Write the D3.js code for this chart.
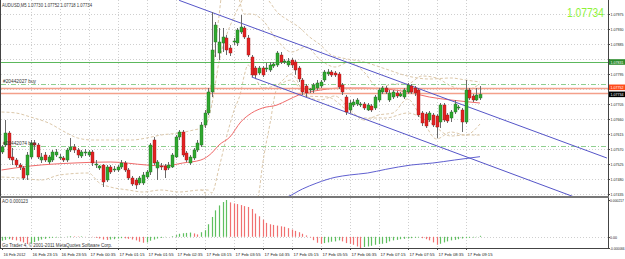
<!DOCTYPE html>
<html>
<head>
<meta charset="utf-8">
<script src="https://cdn.jsdelivr.net/npm/d3@7"></script>
<style>
body { margin: 0; background: #fff; }
text { font-family: "Liberation Sans", Arial, sans-serif; }
</style>
</head>
<body>
<svg id="chart" width="625" height="259"></svg>
<script>
// AUDUSD M5, 16 Feb 22:35 .. 17 Feb 09:35, one entry per bar
const opens = [1.07561,1.07582,1.07618,1.07546,1.07537,1.07522,1.07513,1.07492,1.07546,1.07588,
  1.07582,1.07537,1.07552,1.07531,1.07537,1.07552,1.07543,1.07543,1.07537,1.07567,
  1.07576,1.07567,1.07549,1.07558,1.07552,1.07561,1.07522,1.07513,1.07522,1.07477,
  1.07516,1.07507,1.07507,1.07516,1.07528,1.07507,1.07483,1.07477,1.07468,1.07468,
  1.07486,1.07501,1.07597,1.07513,1.07519,1.07519,1.07513,1.07516,1.07546,1.07606,
  1.07621,1.07558,1.07528,1.07543,1.07567,1.07582,1.07642,1.07678,1.07741,1.07891,
  1.07858,1.07888,1.07903,1.07873,1.07891,1.07888,1.07921,1.07933,1.07903,1.07846,
  1.07813,1.07798,1.07813,1.07810,1.07807,1.07819,1.07822,1.07852,1.07831,1.07822,
  1.07837,1.07831,1.07813,1.07777,1.07759,1.07747,1.07747,1.07753,1.07759,1.07777,
  1.07795,1.07801,1.07798,1.07795,1.07762,1.07726,1.07687,1.07702,1.07705,1.07702,
  1.07705,1.07687,1.07699,1.07693,1.07717,1.07741,1.07753,1.07717,1.07726,1.07738,
  1.07729,1.07726,1.07741,1.07759,1.07753,1.07747,1.07678,1.07675,1.07657,1.07672,
  1.07669,1.07651,1.07702,1.07672,1.07663,1.07681,1.07693,1.07687,1.07651,1.07747,
  1.07729,1.07717,1.07723];
const highs = [1.07582,1.07657,1.07624,1.07573,1.07543,1.07528,1.07519,1.07561,1.07597,1.07597,
  1.07588,1.07558,1.07561,1.07552,1.07567,1.07570,1.07555,1.07549,1.07573,1.07603,
  1.07585,1.07573,1.07567,1.07570,1.07567,1.07567,1.07537,1.07522,1.07525,1.07522,
  1.07522,1.07519,1.07522,1.07537,1.07534,1.07513,1.07489,1.07483,1.07489,1.07501,
  1.07507,1.07588,1.07606,1.07537,1.07528,1.07525,1.07531,1.07558,1.07612,1.07627,
  1.07627,1.07564,1.07552,1.07573,1.07597,1.07651,1.07687,1.07753,1.07981,1.07951,
  1.07933,1.07933,1.07912,1.07882,1.07903,1.07933,1.07972,1.07939,1.07912,1.07852,
  1.07819,1.07819,1.07819,1.07828,1.07831,1.07831,1.07864,1.07861,1.07840,1.07843,
  1.07843,1.07837,1.07819,1.07783,1.07765,1.07753,1.07768,1.07777,1.07777,1.07807,
  1.07810,1.07807,1.07804,1.07801,1.07768,1.07732,1.07717,1.07720,1.07723,1.07711,
  1.07711,1.07708,1.07705,1.07732,1.07753,1.07759,1.07759,1.07747,1.07747,1.07744,
  1.07741,1.07753,1.07768,1.07765,1.07759,1.07753,1.07684,1.07681,1.07684,1.07678,
  1.07675,1.07708,1.07708,1.07678,1.07687,1.07717,1.07702,1.07693,1.07777,1.07753,
  1.07735,1.07753,1.07759];
const lows = [1.07555,1.07576,1.07537,1.07522,1.07516,1.07507,1.07477,1.07477,1.07540,1.07567,
  1.07540,1.07528,1.07531,1.07525,1.07531,1.07546,1.07537,1.07531,1.07531,1.07561,
  1.07558,1.07543,1.07543,1.07549,1.07546,1.07519,1.07513,1.07507,1.07456,1.07471,
  1.07495,1.07501,1.07501,1.07510,1.07501,1.07477,1.07459,1.07450,1.07462,1.07462,
  1.07480,1.07492,1.07522,1.07477,1.07507,1.07483,1.07507,1.07513,1.07543,1.07597,
  1.07546,1.07531,1.07522,1.07537,1.07561,1.07576,1.07633,1.07672,1.07726,1.07846,
  1.07837,1.07861,1.07852,1.07849,1.07882,1.07879,1.07915,1.07900,1.07846,1.07786,
  1.07783,1.07792,1.07786,1.07801,1.07801,1.07813,1.07816,1.07825,1.07825,1.07816,
  1.07813,1.07792,1.07771,1.07732,1.07726,1.07738,1.07738,1.07747,1.07753,1.07771,
  1.07789,1.07786,1.07786,1.07750,1.07732,1.07672,1.07678,1.07696,1.07699,1.07696,
  1.07687,1.07684,1.07681,1.07687,1.07711,1.07735,1.07735,1.07711,1.07720,1.07723,
  1.07726,1.07720,1.07735,1.07735,1.07729,1.07666,1.07639,1.07633,1.07651,1.07636,
  1.07603,1.07633,1.07651,1.07648,1.07651,1.07675,1.07687,1.07621,1.07645,1.07717,
  1.07711,1.07714,1.07717];
const closes = [1.07576,1.07618,1.07543,1.07537,1.07522,1.07516,1.07483,1.07552,1.07588,1.07582,
  1.07546,1.07546,1.07537,1.07546,1.07561,1.07561,1.07546,1.07537,1.07567,1.07576,
  1.07567,1.07552,1.07561,1.07561,1.07561,1.07528,1.07525,1.07519,1.07471,1.07516,
  1.07501,1.07510,1.07516,1.07528,1.07507,1.07483,1.07465,1.07462,1.07483,1.07492,
  1.07501,1.07582,1.07528,1.07531,1.07516,1.07507,1.07522,1.07552,1.07606,1.07621,
  1.07552,1.07537,1.07546,1.07567,1.07588,1.07642,1.07678,1.07741,1.07867,1.07942,
  1.07891,1.07906,1.07867,1.07858,1.07894,1.07927,1.07936,1.07906,1.07852,1.07792,
  1.07792,1.07813,1.07792,1.07813,1.07822,1.07825,1.07858,1.07831,1.07834,1.07834,
  1.07822,1.07807,1.07780,1.07741,1.07738,1.07750,1.07762,1.07768,1.07771,1.07801,
  1.07801,1.07792,1.07792,1.07756,1.07741,1.07681,1.07708,1.07711,1.07717,1.07705,
  1.07693,1.07702,1.07687,1.07726,1.07747,1.07753,1.07741,1.07738,1.07741,1.07729,
  1.07735,1.07747,1.07762,1.07741,1.07738,1.07672,1.07648,1.07639,1.07678,1.07642,
  1.07636,1.07702,1.07657,1.07654,1.07681,1.07705,1.07696,1.07651,1.07747,1.07723,
  1.07717,1.07732,1.07734];

// Awesome Oscillator, one value per bar
const aoValues = [-23e-6,-18e-6,-14e-6,-18e-6,-21e-6,-27e-6,-33e-6,-43e-6,-39e-6,-31e-6,
  -23e-6,-16e-6,-12e-6,-8e-6,-6e-6,-4e-6,-2e-6,0,2e-6,4e-6,
  3e-6,2e-6,3e-6,1e-6,0,-2e-6,-6e-6,-10e-6,-16e-6,-18e-6,
  -16e-6,-14e-6,-10e-6,-8e-6,-9e-6,-12e-6,-16e-6,-21e-6,-29e-6,-35e-6,
  -33e-6,-23e-6,-16e-6,-10e-6,-6e-6,-2e-6,0,4e-6,10e-6,18e-6,
  21e-6,23e-6,25e-6,20e-6,14e-6,27e-6,39e-6,74e-6,117e-6,156e-6,
  185e-6,205e-6,217e-6,203e-6,197e-6,193e-6,187e-6,181e-6,176e-6,164e-6,
  137e-6,121e-6,101e-6,82e-6,74e-6,70e-6,66e-6,62e-6,59e-6,51e-6,
  43e-6,35e-6,27e-6,18e-6,8e-6,-4e-6,-20e-6,-35e-6,-41e-6,-37e-6,
  -33e-6,-29e-6,-27e-6,-21e-6,-27e-6,-37e-6,-41e-6,-47e-6,-57e-6,-66e-6,
  -60e-6,-57e-6,-53e-6,-47e-6,-43e-6,-41e-6,-37e-6,-27e-6,-21e-6,-18e-6,
  -14e-6,-12e-6,-10e-6,-8e-6,-6e-6,-4e-6,-8e-6,-14e-6,-21e-6,-33e-6,
  -47e-6,-41e-6,-33e-6,-27e-6,-21e-6,-18e-6,-14e-6,-10e-6,-8e-6,-6e-6,
  -4e-6,-2e-6,6e-6];

// red moving average (bar index, price)
const maRedIdx = [0,8,20,30,40,45,50,55,58,60,63,66,69,72,76,79,82,85,88,94,100,106,112,118,124,132];
const maRedVal = [1.07507,1.07519,1.07528,1.07531,1.07522,1.07519,1.07528,1.07537,1.07558,1.07582,
  1.07606,1.07651,1.07678,1.07693,1.07702,1.07717,1.07732,1.07741,1.07747,1.07753,1.07753,1.07750,
  1.07741,1.07726,1.07717,1.07708];
// slow blue moving average
const maBlueIdx = [78,79,83,87,92,96,101,106,113,119,125,132];
const maBlueVal = [1.07423,1.07427,1.07450,1.07468,1.07485,1.07492,1.07498,1.07509,1.07522,1.07528,1.07537,1.07547];

// Bollinger bands, slow set
const bbSlowUpIdx = [0,4,8,13,18,21,25,36,40,44,49,53,56,58,60,62,64,66,68,70,72,74,76,79,82,85,88,91,94,100,106,112,118,124,128,132];
const bbSlowUpVal = [1.07681,1.07678,1.07666,1.07648,1.07618,1.07603,1.07597,1.07597,1.07603,1.07612,
  1.07618,1.07627,1.07636,1.07702,1.07831,1.07909,1.07963,1.08008,1.08047,1.08062,
  1.08041,1.08011,1.07981,1.07957,1.07936,1.07906,1.07882,1.07852,1.07843,1.07831,
  1.07810,1.07789,1.07780,1.07783,1.07777,1.07771];
const bbSlowLoIdx = [0,5,11,16,24,27,30,35,39,44,49,55,57,58,62,66,70,71,72,74,76,78,80,84,90,96,100,106,112,118,124,128,132];
const bbSlowLoVal = [1.07486,1.07483,1.07477,1.07492,1.07498,1.07468,1.07456,1.07447,1.07441,1.07447,
  1.07441,1.07447,1.07417,1.07372,1.07297,1.07297,1.07402,1.07438,1.07522,1.07642,
  1.07753,1.07771,1.07777,1.07729,1.07726,1.07681,1.07663,1.07663,1.07678,1.07651,
  1.07609,1.07612,1.07612];
// Bollinger bands, fast set
const bbFastUpIdx = [56,57,58,59,60,61,63,65,67,69,72,76,80,84,88,92,96,100,104,108,112,116,120,124,128,132];
const bbFastUpVal = [1.07636,1.07717,1.07780,1.07882,1.07969,1.08062,1.08137,1.08047,1.07975,1.07975,
  1.07957,1.07897,1.07861,1.07876,1.07837,1.07816,1.07831,1.07801,1.07753,1.07765,
  1.07765,1.07789,1.07783,1.07759,1.07747,1.07765];
const bbFastLoIdx = [55,57,58,60,62,64,66,67,68,70,72,76,80,84,88,92,96,100,104,108,112,116,120,124,128,132];
const bbFastLoVal = [1.07447,1.07447,1.07438,1.07513,1.07603,1.07681,1.07741,1.07792,1.07822,1.07783,
  1.07753,1.07762,1.07795,1.07729,1.07717,1.07729,1.07690,1.07657,1.07672,1.07678,
  1.07720,1.07660,1.07600,1.07621,1.07612,1.07645];

// trend lines: [startIdx, startPrice, endIdx, endPrice]
const trendLines = [[49, 1.08016, 167, 1.07543], [69, 1.07786, 160, 1.07418]];
// horizontal order lines
const hLines = [
  {price: 1.07831, kind: "tp"},
  {price: 1.07765, kind: "order", label: "#20442027 buy"},
  {price: 1.07752, kind: "sl"},
  {price: 1.07737, kind: "sl"},
  {price: 1.07579, kind: "order", label: "#20442074 buy"}
];
const tags = [
  {price: 1.07831, bg: "#2c8a2c", text: "1.07831"},
  {price: 1.07755, bg: "#ff4a1a", text: "1.07752"},
  {price: 1.07734, bg: "#000000", text: "1.07734"}
];
const priceTicks = [1.07435,1.07480,1.07525,1.07570,1.07615,1.07660,1.07705,1.07750,1.07795,1.07840,1.07885,1.07930,1.07975];
const timeIdx = [0,8,16,24,32,40,48,56,64,72,80,88,96,104,112,120,128];
const timeLabels = ["16 Feb 2012","16 Feb 23:15","16 Feb 23:55","17 Feb 00:35","17 Feb 01:15","17 Feb 01:55",
  "17 Feb 02:35","17 Feb 03:15","17 Feb 03:55","17 Feb 04:35","17 Feb 05:15","17 Feb 05:55",
  "17 Feb 06:35","17 Feb 07:15","17 Feb 07:55","17 Feb 08:35","17 Feb 09:15"];

const svg = d3.select("#chart");
const left = 1, right = 608, mainTop = 0, mainBottom = 196, aoTop = 198, aoBottom = 248;

const x = d3.scaleLinear().domain([0, 132]).range([1.5, 480]);
const y = d3.scaleLinear().domain([1.07435, 1.07975]).range([194, 14]);
const yAo = d3.scaleLinear().domain([-66e-6, 217e-6]).range([248, 200]);

const defs = svg.append("defs");
defs.append("clipPath").attr("id", "mainClip").append("rect")
  .attr("x", left).attr("y", mainTop).attr("width", right - left).attr("height", mainBottom - mainTop);
defs.append("clipPath").attr("id", "aoClip").append("rect")
  .attr("x", left).attr("y", aoTop).attr("width", right - left).attr("height", aoBottom - aoTop);

// grid
const grid = svg.append("g").attr("stroke", "#cfcfcf").attr("stroke-dasharray", "1,2").attr("stroke-width", 1);
grid.selectAll(".hg").data(priceTicks).enter().append("line")
  .attr("x1", left).attr("x2", right)
  .attr("y1", d => Math.round(y(d)) + 0.5).attr("y2", d => Math.round(y(d)) + 0.5);
grid.selectAll(".vg").data(timeIdx.slice(1)).enter().append("line")
  .attr("x1", d => Math.round(x(d)) + 0.5).attr("x2", d => Math.round(x(d)) + 0.5)
  .attr("y1", mainTop).attr("y2", aoBottom);
grid.append("line").attr("x1", left).attr("x2", right)
  .attr("y1", Math.round(yAo(0)) + 0.5).attr("y2", Math.round(yAo(0)) + 0.5);

const main = svg.append("g").attr("clip-path", "url(#mainClip)");

// bands and averages
function curveLine(idx, vals, color, dash) {
  main.append("path")
    .datum(idx.map((d, i) => [d, vals[i]]))
    .attr("fill", "none").attr("stroke", color).attr("stroke-width", 1)
    .attr("stroke-dasharray", dash)
    .attr("d", d3.line().x(d => x(d[0])).y(d => y(d[1])).curve(d3.curveMonotoneX));
}
curveLine(bbSlowUpIdx, bbSlowUpVal, "#dcc8aa", "3,2");
curveLine(bbSlowLoIdx, bbSlowLoVal, "#dcc8aa", "3,2");
curveLine(bbFastUpIdx, bbFastUpVal, "#dcc8aa", "3,2");
curveLine(bbFastLoIdx, bbFastLoVal, "#dcc8aa", "3,2");
curveLine(maBlueIdx, maBlueVal, "#6060d0", null);
curveLine(maRedIdx, maRedVal, "#f06a6a", null);

// horizontal lines
const small = svg.append("g").attr("font-size", 4.8).attr("fill", "#333");
hLines.forEach(h => {
  const yy = Math.round(y(h.price)) + 0.5;
  const ln = main.append("line").attr("x1", left).attr("x2", right).attr("y1", yy).attr("y2", yy);
  if (h.kind === "tp") ln.attr("stroke", "#5cb85c").attr("stroke-width", 1.2);
  else if (h.kind === "sl") ln.attr("stroke", "#f4a08a").attr("stroke-width", 1.6);
  else ln.attr("stroke", "#8fcf8f").attr("stroke-width", 1).attr("stroke-dasharray", "5,2,1,2");
  if (h.label) {
    small.append("text").attr("x", 3).attr("y", yy - 1.5)
      .attr("textLength", 33).attr("lengthAdjust", "spacingAndGlyphs").text(h.label);
  }
});

// trend lines
main.selectAll(".trend").data(trendLines).enter().append("line")
  .attr("x1", d => x(d[0])).attr("y1", d => y(d[1]))
  .attr("x2", d => x(d[2])).attr("y2", d => y(d[3]))
  .attr("stroke", "#5555c8").attr("stroke-width", 1);

// candles
const bars = d3.range(opens.length);
main.selectAll(".wick").data(bars).enter().append("line")
  .attr("x1", i => Math.round(x(i)) + 0.5).attr("x2", i => Math.round(x(i)) + 0.5)
  .attr("y1", i => y(highs[i])).attr("y2", i => y(lows[i]))
  .attr("stroke", "#6a6a6a").attr("stroke-width", 1);
main.selectAll(".body").data(bars).enter().append("rect")
  .attr("x", i => Math.round(x(i)) - 1)
  .attr("y", i => y(Math.max(opens[i], closes[i])))
  .attr("width", 3)
  .attr("height", i => Math.max(1, Math.abs(y(opens[i]) - y(closes[i]))))
  .attr("fill", i => closes[i] >= opens[i] ? "#2fa82f" : "#e32222")
  .attr("stroke", i => closes[i] >= opens[i] ? "#1f6f1f" : "#9a1a1a")
  .attr("stroke-width", 0.4);

// AO histogram
const ao = svg.append("g").attr("clip-path", "url(#aoClip)");
ao.selectAll("line").data(bars).enter().append("line")
  .attr("x1", i => Math.round(x(i)) + 0.5).attr("x2", i => Math.round(x(i)) + 0.5)
  .attr("y1", yAo(0)).attr("y2", i => yAo(aoValues[i]))
  .attr("stroke", i => (i === 0 || aoValues[i] >= aoValues[i - 1]) ? "#5fbf5f" : "#f07070")
  .attr("stroke-width", 1.2);

// frames
svg.append("line").attr("x1", right + 0.5).attr("x2", right + 0.5).attr("y1", 0).attr("y2", aoBottom).attr("stroke", "#444");
svg.append("line").attr("x1", 0.5).attr("x2", 0.5).attr("y1", 0).attr("y2", aoBottom).attr("stroke", "#444");
svg.append("rect").attr("x", 0).attr("y", mainBottom).attr("width", right + 1).attr("height", 2).attr("fill", "#777");
svg.append("line").attr("x1", 0).attr("x2", right + 1).attr("y1", aoBottom + 0.5).attr("y2", aoBottom + 0.5).attr("stroke", "#444");

// price axis (labels hidden where a price tag sits)
const axisG = svg.append("g").attr("font-size", 4.4).attr("fill", "#222");
priceTicks.forEach(p => {
  const yy = Math.round(y(p)) + 0.5;
  svg.append("line").attr("x1", right).attr("x2", right + 2).attr("y1", yy).attr("y2", yy).attr("stroke", "#444");
  if (tags.some(t => Math.abs(y(t.price) - yy) < 5)) return;
  axisG.append("text").attr("x", 610.5).attr("y", yy + 1.8)
    .attr("textLength", 13).attr("lengthAdjust", "spacingAndGlyphs").text(p.toFixed(5));
});
tags.forEach(t => {
  const yy = y(t.price);
  svg.append("rect").attr("x", right + 1).attr("y", yy - 2.8).attr("width", 16).attr("height", 5.6).attr("fill", t.bg);
  svg.append("text").attr("x", 610.5).attr("y", yy + 1.7).attr("font-size", 4.4).attr("fill", "#fff")
    .attr("textLength", 13).attr("lengthAdjust", "spacingAndGlyphs").text(t.text);
});

// AO axis
[[217e-6, "0.000217", 14], [0, "0.00", 7], [-66e-6, "-0.000066", 14.5]].forEach(d => {
  const yy = Math.round(yAo(d[0])) + 0.5;
  svg.append("line").attr("x1", right).attr("x2", right + 2).attr("y1", yy).attr("y2", yy).attr("stroke", "#444");
  axisG.append("text").attr("x", 610).attr("y", yy + 1.8)
    .attr("textLength", d[2]).attr("lengthAdjust", "spacingAndGlyphs").text(d[1]);
});

// time axis
timeIdx.forEach((t, k) => {
  const xx = Math.round(x(t)) + 0.5;
  svg.append("line").attr("x1", xx).attr("x2", xx).attr("y1", aoBottom).attr("y2", aoBottom + 2).attr("stroke", "#444");
  axisG.append("text").attr("x", xx + 1).attr("y", 256)
    .attr("textLength", k === 0 ? 22 : 25).attr("lengthAdjust", "spacingAndGlyphs").text(timeLabels[k]);
});

// header texts
small.append("text").attr("x", 2).attr("y", 7)
  .attr("textLength", 90).attr("lengthAdjust", "spacingAndGlyphs")
  .text("AUDUSD,M5  1.07730 1.07752 1.07718 1.07734");
svg.append("text").attr("x", 567).attr("y", 17).attr("font-size", 13)
  .attr("textLength", 37).attr("lengthAdjust", "spacingAndGlyphs")
  .attr("fill", "#8ef23a").text("1.07734");
small.append("text").attr("x", 2).attr("y", 203)
  .attr("textLength", 26).attr("lengthAdjust", "spacingAndGlyphs").text("AO 0.000123");
small.append("text").attr("x", 2).attr("y", 246.5)
  .attr("textLength", 110).attr("lengthAdjust", "spacingAndGlyphs")
  .text("Go Trader 4, © 2001-2011 MetaQuotes Software Corp.");
</script>
</body>
</html>
